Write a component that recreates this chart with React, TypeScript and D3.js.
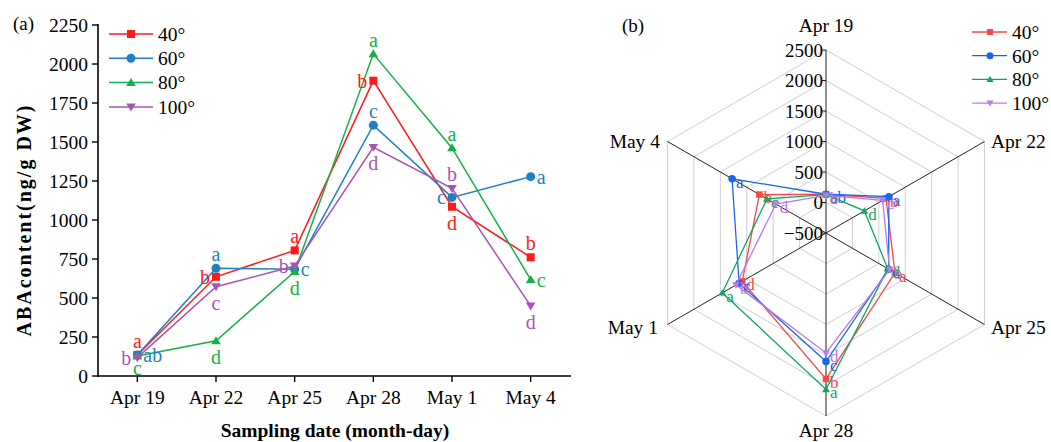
import React from "react";
import * as d3 from "d3";

const dates = ["Apr 19", "Apr 22", "Apr 25", "Apr 28", "May 1", "May 4"];
const seriesNames = ["40°", "60°", "80°", "100°"];
const v40 = [135, 636, 805, 1893, 1085, 761];
const v60 = [135, 690, 685, 1608, 1145, 1278];
const v80 = [128, 226, 669, 2065, 1462, 618];
const v100 = [118, 572, 705, 1466, 1203, 449];
const letters40 = ["a", "b", "a", "b", "d", "b"];
const letters60 = ["ab", "a", "c", "c", "c", "a"];
const letters80 = ["c", "d", "d", "a", "a", "c"];
const letters100 = ["b", "c", "b", "d", "b", "d"];
const pos40 = ["above", "left", "above", "left", "below", "above"];
const pos60 = ["right", "above", "right", "above", "left", "right"];
const pos80 = ["belowNear", "below", "below", "above", "above", "right"];
const pos100 = ["left", "below", "left", "below", "above", "below"];
const yTicks = [0, 250, 500, 750, 1000, 1250, 1500, 1750, 2000, 2250];
const rTicks = [-500, 0, 500, 1000, 1500, 2000, 2500];

const values = [v40, v60, v80, v100];
const lettersAll = [letters40, letters60, letters80, letters100];
const posAll = [pos40, pos60, pos80, pos100];
const colorsA = ["#ff1a1a", "#1f7fc4", "#14b04a", "#a855b5"];
const colorsB = ["#f64848", "#1a66e6", "#10a564", "#b978f0"];
const shapes = ["square", "circle", "triangle", "triangleDown"];
const FONT = "'Liberation Serif', 'Times New Roman', serif";

function Marker({ shape, x, y, s, color }: any) {
  if (shape === "square")
    return <rect x={x - s / 2} y={y - s / 2} width={s} height={s} fill={color} />;
  if (shape === "circle") return <circle cx={x} cy={y} r={s / 2 + 0.5} fill={color} />;
  const h = s * 0.95;
  if (shape === "triangle")
    return (
      <path
        d={`M${x},${y - h * 0.6}L${x + s * 0.6},${y + h * 0.45}L${x - s * 0.6},${y + h * 0.45}Z`}
        fill={color}
      />
    );
  return (
    <path
      d={`M${x},${y + h * 0.6}L${x + s * 0.6},${y - h * 0.45}L${x - s * 0.6},${y - h * 0.45}Z`}
      fill={color}
    />
  );
}

function ChartA() {
  const x = d3.scalePoint<string>().domain(dates).range([98, 570]).padding(0.5);
  const y = d3.scaleLinear().domain([0, 2250]).range([376, 25]);
  const offs: any = {
    above: [0, -14, "middle"],
    below: [0, 16, "middle"],
    belowNear: [0, 12, "middle"],
    left: [-6, 0, "end"],
    right: [6, 0, "start"],
  };
  return (
    <g fontFamily={FONT}>
      <text x={13} y={30} fontSize={19}>(a)</text>
      <line x1={98} x2={98} y1={24} y2={377} stroke="#000" strokeWidth={1.6} />
      <line x1={97} x2={571} y1={376} y2={376} stroke="#000" strokeWidth={1.6} />
      {yTicks.map((t) => (
        <g key={t}>
          <line x1={92} x2={98} y1={y(t)} y2={y(t)} stroke="#000" strokeWidth={1.4} />
          <text x={88} y={y(t)} dy="0.35em" textAnchor="end" fontSize={19.5}>{t}</text>
        </g>
      ))}
      {dates.map((dd) => (
        <g key={dd}>
          <line x1={x(dd)} x2={x(dd)} y1={376} y2={382} stroke="#000" strokeWidth={1.4} />
          <text x={x(dd)} y={404} textAnchor="middle" fontSize={19.5}>{dd}</text>
        </g>
      ))}
      <text x={335} y={437} textAnchor="middle" fontSize={19.5} fontWeight="bold">
        Sampling date (month-day)
      </text>
      <text
        transform="translate(31,220) rotate(-90)"
        textAnchor="middle"
        fontSize={20}
        fontWeight="bold"
        letterSpacing={2}
      >
        ABAcontent(ng/g DW)
      </text>
      {values.map((vals, si) => {
        const line = d3
          .line<number>()
          .x((_, i) => x(dates[i]) as number)
          .y((v) => y(v));
        return (
          <g key={si}>
            <path d={line(vals) as string} fill="none" stroke={colorsA[si]} strokeWidth={1.5} />
            {vals.map((v, i) => (
              <Marker key={i} shape={shapes[si]} x={x(dates[i])} y={y(v)} s={8} color={colorsA[si]} />
            ))}
          </g>
        );
      })}
      {values.map((vals, si) =>
        vals.map((v, i) => {
          const o = offs[posAll[si][i]];
          return (
            <text
              key={`${si}-${i}`}
              x={(x(dates[i]) as number) + o[0]}
              y={y(v) + o[1]}
              dy="0.35em"
              textAnchor={o[2]}
              fontSize={20}
              fill={colorsA[si]}
            >
              {lettersAll[si][i]}
            </text>
          );
        })
      )}
      {seriesNames.map((n, si) => {
        const ly = 34 + si * 24.3;
        return (
          <g key={n}>
            <line x1={109} x2={153} y1={ly} y2={ly} stroke={colorsA[si]} strokeWidth={1.5} />
            <Marker shape={shapes[si]} x={131} y={ly} s={8} color={colorsA[si]} />
            <text x={158} y={ly} dy="0.35em" fontSize={19.5}>{n}</text>
          </g>
        );
      })}
    </g>
  );
}

function ChartB() {
  const cx = 826;
  const cy = 233;
  const R = 183;
  const r = d3.scaleLinear().domain([-500, 2500]).range([0, R]);
  const ang = (i: number) => (i * Math.PI * 2) / dates.length;
  const pt = (i: number, v: number): [number, number] => [
    cx + r(v) * Math.sin(ang(i)),
    cy - r(v) * Math.cos(ang(i)),
  ];
  const ringPath = (v: number) =>
    d3.line()(dates.map((_, i) => pt(i, v)).concat([pt(0, v)])) as string;
  const labelPos: any[] = [
    [826, 25, "middle"],
    [991, 141, "start"],
    [991, 327, "start"],
    [826, 430, "middle"],
    [658, 327, "end"],
    [660, 141, "end"],
  ];
  return (
    <g fontFamily={FONT}>
      <text x={622} y={32} fontSize={19}>(b)</text>
      {rTicks.slice(1).map((t) => (
        <path key={t} d={ringPath(t)} fill="none" stroke="#cfcfcf" strokeWidth={1} />
      ))}
      {dates.map((dd, i) => {
        const [ex, ey] = pt(i, 2500);
        return <line key={dd} x1={cx} y1={cy} x2={ex} y2={ey} stroke="#222" strokeWidth={1} />;
      })}
      {rTicks.map((t) => (
        <g key={t}>
          <line x1={cx - 4} x2={cx} y1={cy - r(t)} y2={cy - r(t)} stroke="#222" strokeWidth={1} />
          <text x={cx - 3} y={cy - r(t)} dy="0.35em" textAnchor="end" fontSize={19}>
            {t < 0 ? `\u2212${-t}` : t}
          </text>
        </g>
      ))}
      {dates.map((dd, i) => (
        <text
          key={dd}
          x={labelPos[i][0]}
          y={labelPos[i][1]}
          dy="0.35em"
          textAnchor={labelPos[i][2]}
          fontSize={19.5}
        >
          {dd}
        </text>
      ))}
      {values.map((vals, si) => {
        const pts = vals.map((v, i) => pt(i, v));
        return (
          <g key={si}>
            <path
              d={d3.line()(pts.concat([pts[0]])) as string}
              fill="none"
              stroke={colorsB[si]}
              strokeWidth={1.3}
            />
            {pts.map((p, i) => (
              <Marker key={i} shape={shapes[si]} x={p[0]} y={p[1]} s={6.5} color={colorsB[si]} />
            ))}
            {pts.map((p, i) => (
              <text
                key={`l${i}`}
                x={p[0] + 4}
                y={p[1] + 3}
                dy="0.35em"
                fontSize={17}
                fill={colorsB[si]}
              >
                {lettersAll[si][i]}
              </text>
            ))}
          </g>
        );
      })}
      {seriesNames.map((n, si) => {
        const ly = 32 + si * 23.7;
        return (
          <g key={n}>
            <line x1={972} x2={1007} y1={ly} y2={ly} stroke={colorsB[si]} strokeWidth={1.3} />
            <Marker shape={shapes[si]} x={990} y={ly} s={6} color={colorsB[si]} />
            <text x={1012} y={ly} dy="0.35em" fontSize={19.5}>{n}</text>
          </g>
        );
      })}
    </g>
  );
}

export default function App() {
  return (
    <svg
      width={1051}
      height={442}
      style={{ position: "absolute", left: 0, top: 0, background: "#fff" }}
    >
      <ChartA />
      <ChartB />
    </svg>
  );
}
